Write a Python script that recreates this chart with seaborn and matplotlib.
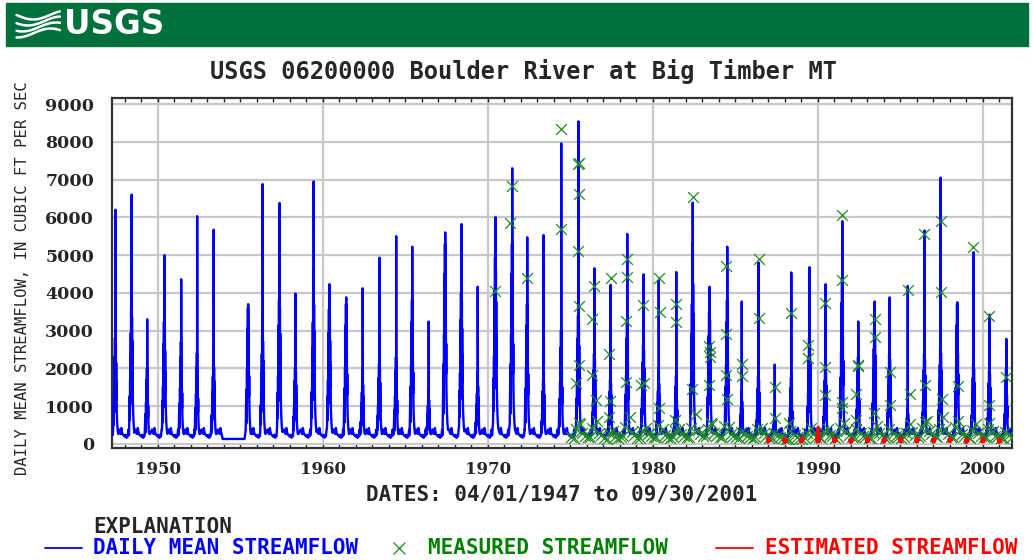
import numpy as np
import pandas as pd
import matplotlib
matplotlib.use('Agg')
import matplotlib.pyplot as plt
import matplotlib.dates as mdates
from matplotlib.lines import Line2D
from matplotlib.patches import Rectangle
from matplotlib.ticker import MultipleLocator
import seaborn as sns

sns.set_style('white')

# annual snowmelt peaks (1954 is missing)
years = [1947, 1948, 1949, 1950, 1951, 1952, 1953,
         1955, 1956, 1957, 1958, 1959, 1960, 1961, 1962, 1963, 1964,
         1965, 1966, 1967, 1968, 1969, 1970, 1971, 1972, 1973, 1974,
         1975, 1976, 1977, 1978, 1979, 1980, 1981, 1982, 1983, 1984,
         1985, 1986, 1987, 1988, 1989, 1990, 1991, 1992, 1993, 1994,
         1995, 1996, 1997, 1998, 1999, 2000, 2001]
peak_cfs = [6200, 6600, 3300, 5000, 4360, 6030, 5670,
            3700, 6880, 6380, 3980, 6950, 4230, 3880, 4120, 4930, 5500,
            5220, 3240, 5600, 5820, 4160, 6000, 7300, 5470, 5530, 7960,
            8540, 4650, 4210, 5560, 4490, 4330, 4550, 6390, 4160, 5220,
            3770, 4800, 2100, 4540, 4680, 4230, 5900, 3240, 3770, 3880,
            4180, 5650, 7050, 3750, 5080, 3420, 2780]
peak_doy = [161, 153, 131, 149, 153, 142, 142,
            175, 131, 139, 128, 164, 149, 153, 153, 161, 164,
            153, 153, 153, 149, 142, 171, 175, 142, 139, 164,
            182, 171, 161, 164, 161, 131, 153, 153, 161, 186,
            142, 149, 142, 142, 182, 171, 175, 164, 161, 128,
            164, 171, 161, 164, 161, 149, 153]
# upper level of the thick high-water band in each year
band_cfs = [3300, 4200, 2000, 3800, 2700, 2400, 2550,
            3600, 3400, 4500, 2400, 4600, 4200, 3700, 1950, 2500, 2300,
            3800, 1450, 5300, 4700, 1900, 5800, 5300, 3700, 2000, 3000,
            4000, 2800, 2000, 3300, 3100, 2000, 1800, 5300, 4100, 3800,
            1400, 2100, 900, 1750, 3300, 2400, 4400, 2300, 3600, 2800,
            1000, 2800, 3000, 3700, 2500, 2300, 2000]

# seasonal hydrograph template: winter/spring base, melt pulses, late-season base
base_doy = [1, 20, 40, 55, 70, 85, 95]
base_cfs = [190, 240, 160, 210, 200, 380, 230]
melt_off = [-55, -45, -40, -34, -30, -26, -22, -18, -15, -12, -9, -6, -3, -1, 0,
            2, 5, 8, 11, 14, 18, 22, 27, 33, 40, 50, 62]
melt_frac = [0.1, 0.3, 0.15, 0.4, 0.25, 0.55, 0.35, 0.7, 0.45, 0.85, 0.5, 1.0, 0.7, 0.75, 0,
             0.9, 0.55, 0.8, 0.45, 0.65, 0.35, 0.5, 0.28, 0.2, 0.15, 0.1, 0.07]
tail_doy = [240, 255, 275, 290, 300, 320, 345, 365]
tail_cfs = [380, 300, 260, 420, 330, 250, 220, 190]
record_start = ('1947-04-01', 450)
gap_edges = [('1953-12-05', 130), ('1955-04-05', 130)]

# measured streamflow, high-water visits
meas_dates = ['1970-05-30', '1971-05-12', '1971-06-24', '1972-05-22', '1974-06-12', '1974-06-02',
              '1975-07-01', '1975-06-29', '1975-07-05', '1975-06-25', '1975-07-10', '1975-07-15',
              '1975-05-12', '1975-07-20', '1976-06-17', '1976-05-01', '1976-04-30', '1976-07-25',
              '1977-06-24', '1977-05-01', '1977-05-18', '1977-05-03', '1978-06-13', '1978-06-15',
              '1978-05-22', '1978-05-08', '1979-04-20', '1979-05-22', '1979-06-25', '1980-05-12',
              '1980-05-30', '1980-05-10', '1981-06-02', '1981-06-04', '1981-04-26', '1982-06-03',
              '1982-05-22', '1983-06-06', '1983-06-08', '1983-06-10', '1983-06-04', '1983-07-20',
              '1984-06-15', '1984-06-12', '1984-06-14', '1984-06-20', '1985-05-22', '1985-05-25',
              '1986-05-29', '1986-06-01', '1987-06-02', '1987-06-05', '1988-05-22', '1988-04-12',
              '1989-05-22', '1989-05-24', '1990-05-29', '1990-05-27', '1990-06-01', '1991-06-24',
              '1991-06-22', '1991-06-28', '1991-06-20', '1992-06-03', '1992-05-01', '1992-06-05',
              '1992-05-03', '1993-06-09', '1993-06-12', '1993-06-01', '1994-05-22', '1994-05-24',
              '1995-06-13', '1995-07-23', '1996-06-17', '1996-06-20', '1996-07-01', '1997-06-10',
              '1997-06-12', '1997-07-02', '1998-06-25', '1998-06-30', '1999-05-22', '2000-05-12',
              '2000-05-08', '2000-05-20', '2001-05-18']
meas_cfs = [4050, 5850, 6830, 4390, 8330, 5700,
            7450, 7420, 6620, 5100, 3660, 2080,
            1600, 545, 4180, 3310, 1820, 1160,
            4390, 2390, 1140, 720, 4890, 4420,
            3260, 1640, 1550, 3680, 1600, 4390,
            3480, 940, 3700, 3240, 630, 6530,
            1440, 2600, 2430, 2300, 1550, 540,
            4710, 2910, 1820, 1200, 2120, 1790,
            4890, 3330, 1510, 680, 3460, 540,
            2630, 2280, 3720, 2030, 1290, 6050,
            4330, 1110, 940, 2050, 1330, 2090,
            630, 3310, 2820, 820, 1900, 1030,
            4070, 1320, 5560, 1550, 590, 5910,
            4010, 1180, 1530, 610, 5210, 3390,
            1030, 540, 1760]

# measured streamflow, low-water visits (same calendar days each year)
low_days = ['01-25', '03-20', '04-25', '08-10', '09-25', '11-15']
low_years = list(range(1975, 2002))
low_cfs = [[170, 150, 380, 520, 300, 210], [190, 170, 420, 610, 280, 230],
           [160, 140, 300, 350, 190, 160], [180, 200, 450, 700, 320, 240],
           [150, 160, 350, 420, 260, 200], [170, 180, 500, 380, 240, 190],
           [160, 190, 330, 400, 250, 210], [180, 170, 410, 800, 360, 260],
           [200, 210, 380, 520, 300, 230], [190, 180, 460, 450, 270, 200],
           [170, 160, 320, 300, 210, 180], [150, 170, 390, 430, 280, 220],
           [160, 150, 280, 230, 180, 150], [140, 130, 350, 240, 170, 140],
           [130, 150, 300, 420, 250, 190], [170, 160, 340, 380, 240, 200],
           [150, 180, 420, 560, 330, 240], [170, 190, 380, 300, 220, 180],
           [160, 150, 320, 480, 290, 230], [150, 170, 400, 280, 210, 170],
           [160, 180, 300, 520, 320, 240], [190, 200, 420, 610, 340, 250],
           [200, 190, 380, 700, 380, 270], [180, 170, 450, 360, 250, 200],
           [170, 160, 360, 520, 300, 220], [180, 190, 390, 330, 220, 180],
           [150, 160, 310, 240, 190]]

# estimated (ice-affected) winter flow
est_winters = list(range(1986, 2001))
est_days = ['12-15', '12-25', '01-05', '01-15', '01-25']
est_cfs = [[120, 60, 140, 70, 110], [110, 50, 130, 60, 100], [100, 60, 150, 80, 90],
           [120, 70, 420, 60, 110], [130, 60, 140, 70, 120], [110, 50, 120, 60, 100],
           [120, 60, 140, 80, 110], [100, 50, 130, 70, 90], [130, 70, 150, 60, 120],
           [120, 60, 140, 70, 100], [110, 60, 130, 60, 110], [120, 70, 140, 80, 100],
           [100, 50, 120, 60, 90], [120, 60, 130, 70, 110], [110, 50, 120, 60, 100]]

# ---- build tables
rows = [(pd.Timestamp(record_start[0]), record_start[1])]
for yr, pk, dd, band in zip(years, peak_cfs, peak_doy, band_cfs):
    pts = []
    for d, v in zip(base_doy, base_cfs):
        if d < dd + melt_off[0]:
            pts.append((d, v))
    for off, fr in zip(melt_off, melt_frac):
        pts.append((dd + off, pk if off == 0 else max(260, fr * band)))
    for d, v in zip(tail_doy, tail_cfs):
        if d > dd + melt_off[-1]:
            pts.append((d, v))
    for d, v in sorted(pts):
        t = pd.Timestamp(yr, 1, 1) + pd.Timedelta(days=d - 1)
        if t <= rows[-1][0] or t > pd.Timestamp('2001-09-30'):
            continue
        if yr == 1953 and d > 320:
            continue
        rows.append((t, v))
    if yr == 1953:
        for ds, v in gap_edges:
            rows.append((pd.Timestamp(ds), v))
daily = pd.DataFrame(rows, columns=['date', 'cfs'])

meas = pd.DataFrame({'date': pd.to_datetime(meas_dates), 'cfs': meas_cfs})
low = [(pd.Timestamp(f'{yr}-{md}'), v) for yr, vals in zip(low_years, low_cfs)
       for md, v in zip(low_days, vals)]
meas = pd.concat([meas, pd.DataFrame(low, columns=['date', 'cfs'])], ignore_index=True)

est = []
for w, vals in zip(est_winters, est_cfs):
    for md, v in zip(est_days, vals):
        yr = w if md.startswith('12') else w + 1
        est.append((w, pd.Timestamp(f'{yr}-{md}'), v))
est = pd.DataFrame(est, columns=['winter', 'date', 'cfs'])

# ---- figure
fig = plt.figure(figsize=(10.33, 5.6), dpi=100)
fig.add_artist(Rectangle((0.006, 1 - 46 / 560), 0.989, 43 / 560, transform=fig.transFigure,
                         color='#00703c', zorder=0))
wx = np.linspace(0.016, 0.058, 40)
for k in range(4):
    wy = 1 - (15 + 6 * k) / 560 - 0.008 * np.sin((wx - 0.016) / 0.042 * np.pi * 1.3 + k * 0.5)
    fig.add_artist(Line2D(wx, wy, transform=fig.transFigure, color='white', lw=1.8))
fig.text(0.062, 1 - 25 / 560, 'USGS', color='white', fontsize=23.5, fontweight='bold',
         family=['Liberation Sans Narrow', 'DejaVu Sans'], va='center', ha='left')

ax = fig.add_axes([0.1085, 0.2, 0.871, 0.625])
sns.lineplot(data=daily, x='date', y='cfs', ax=ax, color='#0000ff', lw=1.7,
             estimator=None, sort=False, zorder=3)
sns.scatterplot(data=meas, x='date', y='cfs', ax=ax, marker='x', color='#1f8a1f',
                s=60, linewidth=0.9, zorder=4)
sns.lineplot(data=est, x='date', y='cfs', units='winter', ax=ax, color='#ff0000', lw=2.8,
             estimator=None, sort=False, zorder=5)

ax.set_xlim(pd.Timestamp('1947-03-26'), pd.Timestamp('2001-10-02'))
ax.set_ylim(-110, 9160)
ax.yaxis.set_major_locator(MultipleLocator(1000))
ax.xaxis.set_major_locator(mdates.YearLocator(10))
ax.xaxis.set_minor_locator(mdates.YearLocator(1))
ax.xaxis.set_major_formatter(mdates.DateFormatter('%Y'))
ax.grid(which='major', color='#c8c8c8', lw=1.6, zorder=0)
ax.set_axisbelow(True)
ax.tick_params(axis='y', length=0, pad=13)
ax.tick_params(axis='x', which='both', direction='in', top=True, bottom=True,
               length=3, width=1, color='#222222', pad=9)
for lab in ax.get_yticklabels():
    lab.set_family('DejaVu Serif')
    lab.set_fontweight('bold')
    lab.set_fontsize(12.5)
for lab in ax.get_xticklabels():
    lab.set_family('DejaVu Serif')
    lab.set_fontweight('bold')
    lab.set_fontsize(12)
for sp in ax.spines.values():
    sp.set_color('#333333')
    sp.set_linewidth(1.6)

mono = 'DejaVu Sans Mono'
fig.text(524 / 1033, 1 - 72 / 560, 'USGS 06200000 Boulder River at Big Timber MT',
         family=mono, fontweight='bold', fontsize=17, ha='center', va='center')
ax.set_xlabel('DATES: 04/01/1947 to 09/30/2001', family=mono,
              fontweight='bold', fontsize=15, labelpad=5)
ax.set_ylabel('DAILY MEAN STREAMFLOW, IN CUBIC FT PER SEC', family=mono,
              fontsize=11.2, labelpad=12)
ax.yaxis.set_label_coords(-0.091, 0.484)

# explanation block
fig.text(93 / 1033, 1 - 527 / 560, 'EXPLANATION', family=mono, fontweight='bold',
         fontsize=15, va='center', ha='left')
ry = 1 - 548 / 560
fig.add_artist(Line2D([45 / 1033, 82 / 1033], [ry, ry], transform=fig.transFigure,
                      color='#0000ff', lw=1.3))
fig.text(93 / 1033, ry, 'DAILY MEAN STREAMFLOW', family=mono, fontweight='bold',
         fontsize=15, color='#0000ff', va='center', ha='left')
fig.add_artist(Line2D([399 / 1033], [ry], transform=fig.transFigure, marker='x',
                      color='#1f8a1f', ms=9, mew=0.9, lw=0))
fig.text(428 / 1033, ry, 'MEASURED STREAMFLOW', family=mono, fontweight='bold',
         fontsize=15, color='#008000', va='center', ha='left')
fig.add_artist(Line2D([716 / 1033, 753 / 1033], [ry, ry], transform=fig.transFigure,
                      color='#ff0000', lw=1.3))
fig.text(765 / 1033, ry, 'ESTIMATED STREAMFLOW', family=mono, fontweight='bold',
         fontsize=15, color='#ff0000', va='center', ha='left')

fig.savefig('out.png', dpi=100)
